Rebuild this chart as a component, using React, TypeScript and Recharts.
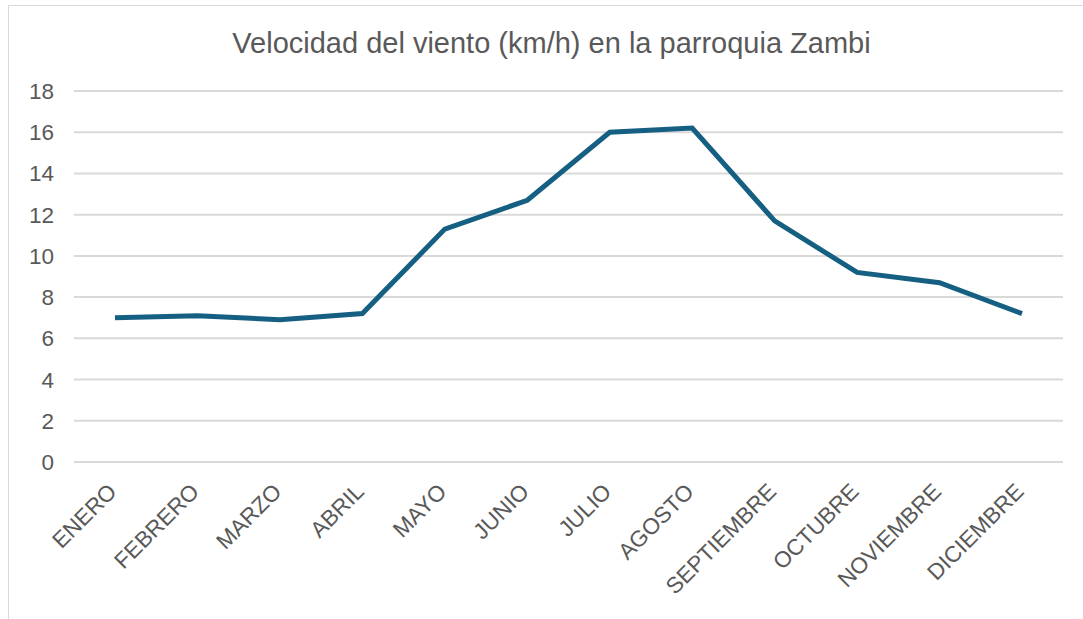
import { CartesianGrid, Line, LineChart, XAxis, YAxis } from "recharts";

const months = [
  "ENERO",
  "FEBRERO",
  "MARZO",
  "ABRIL",
  "MAYO",
  "JUNIO",
  "JULIO",
  "AGOSTO",
  "SEPTIEMBRE",
  "OCTUBRE",
  "NOVIEMBRE",
  "DICIEMBRE",
];
const windSpeed = [7.0, 7.1, 6.9, 7.2, 11.3, 12.7, 16.0, 16.2, 11.7, 9.2, 8.7, 7.2];
const yTicks = [0, 2, 4, 6, 8, 10, 12, 14, 16, 18];

const data = months.map((month, i) => ({ month, speed: windSpeed[i] }));

const FONT = "'Liberation Sans', Arial, sans-serif";
const TEXT = "#595959";

function MonthTick({ x, y, payload }: { x: number; y: number; payload: { value: string } }) {
  return (
    <g transform={`translate(${x + 3},${y + 23})`}>
      <text
        x={0}
        y={0}
        textAnchor="end"
        transform="rotate(-45)"
        fill={TEXT}
        fontSize={22.5}
        fontFamily={FONT}
      >
        {payload.value}
      </text>
    </g>
  );
}

export default function App() {
  return (
    <div
      style={{
        position: "absolute",
        left: 0,
        top: 0,
        width: 1083,
        height: 619,
        overflow: "hidden",
        background: "#fff",
      }}
    >
      <div
        style={{
          position: "absolute",
          left: 8,
          top: 5,
          width: 1100,
          height: 700,
          border: "1px solid #d9d9d9",
        }}
      />
      <div
        style={{
          position: "absolute",
          left: 0,
          top: 27,
          width: 1083,
          textAlign: "center",
          fontFamily: FONT,
          fontSize: 29,
          color: TEXT,
          paddingLeft: 20,
          boxSizing: "border-box",
        }}
      >
        Velocidad del viento (km/h) en la parroquia Zambi
      </div>
      <div style={{ position: "absolute", left: 0, top: 0 }}>
        <LineChart width={1083} height={619} data={data} margin={{ top: 91, right: 20, left: 0, bottom: 0 }}>
          <CartesianGrid stroke="#d9d9d9" strokeWidth={2} vertical={false} />
          <XAxis
            dataKey="month"
            axisLine={false}
            tickLine={false}
            interval={0}
            padding={{ left: 41, right: 41 }}
            tick={MonthTick}
            height={157}
          />
          <YAxis
            domain={[0, 18]}
            ticks={yTicks}
            interval={0}
            width={74}
            axisLine={false}
            tickLine={false}
            tickMargin={14}
            tick={{ fill: TEXT, fontSize: 22.5, fontFamily: FONT }}
          />
          <Line
            type="linear"
            dataKey="speed"
            stroke="#156082"
            strokeWidth={5}
            dot={false}
            isAnimationActive={false}
          />
        </LineChart>
      </div>
    </div>
  );
}
